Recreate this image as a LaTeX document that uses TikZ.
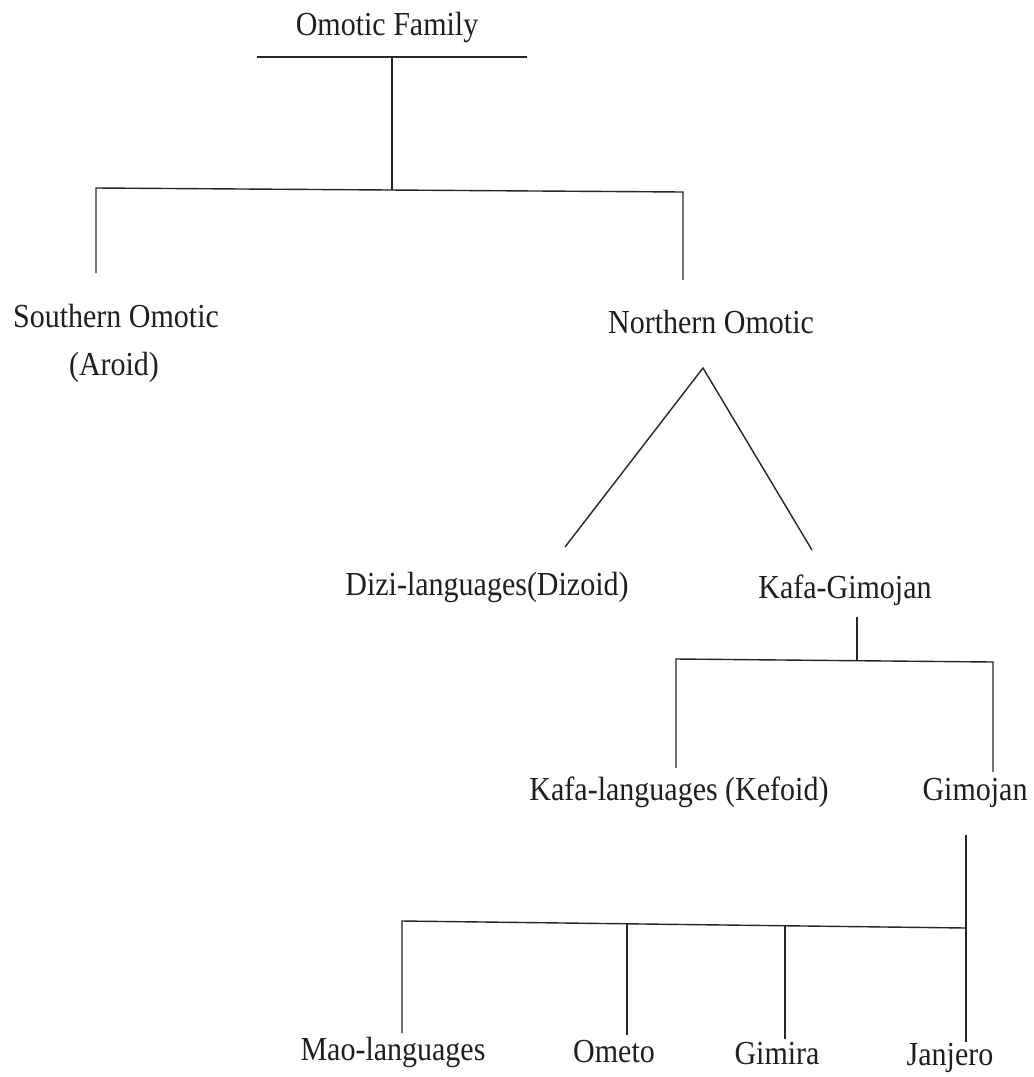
\documentclass[tikz,border=0pt]{standalone}
\usepackage{fontspec}
\setmainfont{Liberation Serif}
\usepackage{graphicx}
\newcommand{\lbltxt}[1]{\scalebox{1}[1.12]{#1}}
\begin{document}
\begin{tikzpicture}[x=1pt,y=-1pt,
  lbl/.style={anchor=base,inner sep=0pt,text=black!88,font=\fontsize{30}{34}\selectfont},
  ln/.style={draw=black!85,line width=1.4pt}]
\useasboundingbox[fill=white] (0,0) rectangle (1034,1077);
% labels
\node[lbl] (omotic) at (387,35) {\lbltxt{Omotic Family}};
\node[lbl] (south) at (116,327) {\lbltxt{Southern Omotic}};
\node[lbl] (aroid) at (114,375) {\lbltxt{(Aroid)}};
\node[lbl] (north) at (711,333) {\lbltxt{Northern Omotic}};
\node[lbl] (dizi) at (487,595) {\lbltxt{Dizi-languages(Dizoid)}};
\node[lbl] (kg) at (845,598) {\lbltxt{Kafa-Gimojan}};
\node[lbl] (kafa) at (679,800) {\lbltxt{Kafa-languages (Kefoid)}};
\node[lbl] (gimojan) at (975,800) {\lbltxt{Gimojan}};
\node[lbl] (mao) at (393,1060) {\lbltxt{Mao-languages}};
\node[lbl] (ometo) at (614,1062) {\lbltxt{Ometo}};
\node[lbl] (gimira) at (777,1064) {\lbltxt{Gimira}};
\node[lbl] (janjero) at (950,1065) {\lbltxt{Janjero}};
% junction coordinates
\coordinate (t1) at (257,57);
\coordinate (t2) at (527,57);
\coordinate (tj) at (392,57);
\coordinate (tb) at (392,190);
\coordinate (b1L) at (96,188);
\coordinate (b1R) at (683,192);
\coordinate (sEnd) at (96,273);
\coordinate (nEnd) at (683,280);
\coordinate (apex) at (703,368);
\coordinate (dEnd) at (565,547);
\coordinate (kEnd) at (812,550);
\coordinate (kgTop) at (857,617);
\coordinate (kgJ) at (857,660);
\coordinate (k1L) at (676,659);
\coordinate (k1R) at (993,662);
\coordinate (kafaEnd) at (676,768);
\coordinate (gimEnd) at (993,772);
\coordinate (gTop) at (966,835);
\coordinate (m1L) at (402,921);
\coordinate (m1R) at (966,928);
\coordinate (oTop) at (627,924);
\coordinate (oEnd) at (627,1035);
\coordinate (giTop) at (785,926);
\coordinate (giEnd) at (785,1039);
\coordinate (maoEnd) at (402,1033);
\coordinate (jEnd) at (966,1042);
% connectors
\draw[ln] (t1) -- (t2);
\draw[ln] (tj) -- (tb);
\draw[ln] (sEnd) -- (b1L) -- (b1R) -- (nEnd);
\draw[ln] (dEnd) -- (apex) -- (kEnd);
\draw[ln] (kgTop) -- (kgJ);
\draw[ln] (kafaEnd) -- (k1L) -- (k1R) -- (gimEnd);
\draw[ln] (gTop) -- (jEnd);
\draw[ln] (maoEnd) -- (m1L) -- (m1R);
\draw[ln] (oTop) -- (oEnd);
\draw[ln] (giTop) -- (giEnd);
\end{tikzpicture}
\end{document}
